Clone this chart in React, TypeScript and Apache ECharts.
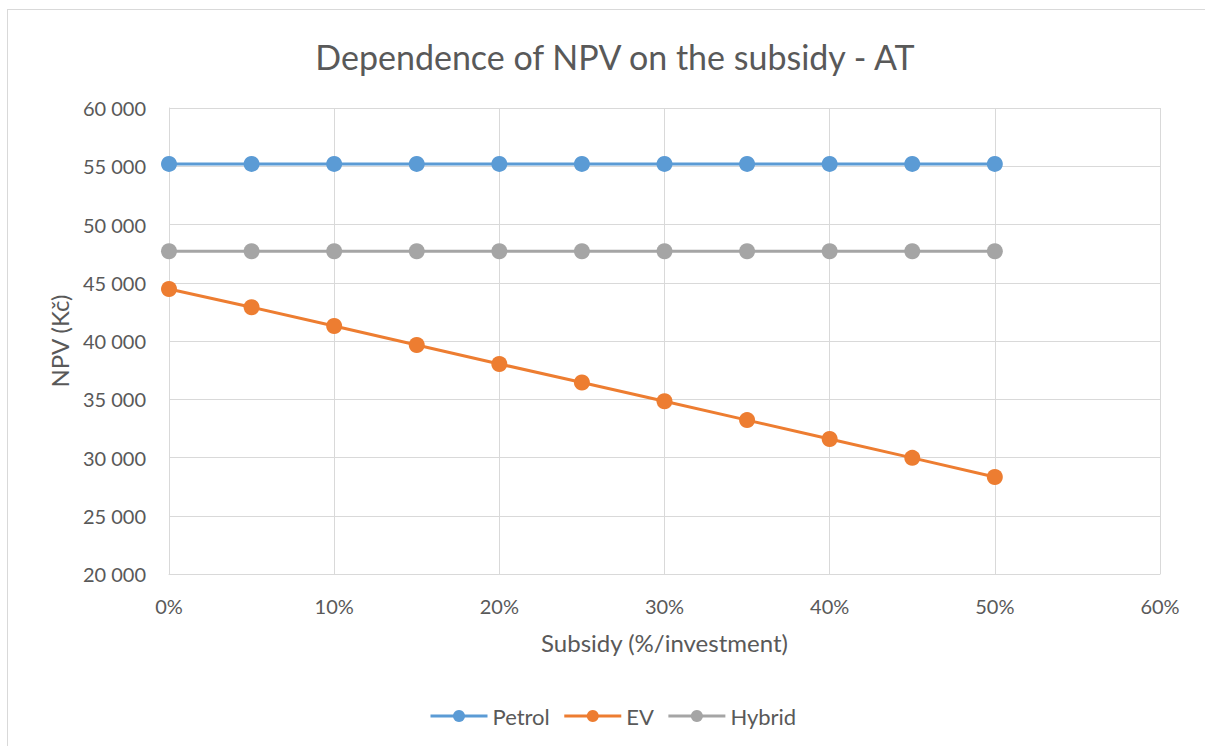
import React, { useEffect, useRef } from "react";
import * as echarts from "echarts";

const subsidy = [0, 0.05, 0.1, 0.15, 0.2, 0.25, 0.3, 0.35, 0.4, 0.45, 0.5];
const petrol = [55200, 55200, 55200, 55200, 55200, 55200, 55200, 55200, 55200, 55200, 55200];
const ev = [44460, 42900, 41290, 39660, 38030, 36440, 34830, 33210, 31590, 29970, 28330];
const hybrid = [47700, 47700, 47700, 47700, 47700, 47700, 47700, 47700, 47700, 47700, 47700];

const FONT = "Lato, 'Open Sans', sans-serif";
const TXT = "#595959";

export default function App() {
  const ref = useRef<HTMLDivElement>(null);
  useEffect(() => {
    if (!ref.current) return;
    const chart = echarts.init(ref.current, undefined, { renderer: "svg" });
    const mk = (name: string, vals: number[], color: string) => ({
      name,
      type: "line",
      data: subsidy.map((x, i) => [x, vals[i]]),
      symbol: "circle",
      symbolSize: 16,
      itemStyle: { color },
      lineStyle: { color, width: 3 },
    });
    chart.setOption({
      animation: false,
      textStyle: { fontFamily: FONT },
      title: {
        text: "Dependence of NPV on the subsidy - AT",
        left: 610,
        top: 34,
        textAlign: "center",
        textStyle: { fontFamily: FONT, fontSize: 34, fontWeight: "normal", color: TXT },
      },
      legend: {
        bottom: 14,
        left: 424,
        itemWidth: 57,
        itemHeight: 15,
        itemGap: 13,
        lineStyle: { width: 3 },
        textStyle: { fontFamily: FONT, fontSize: 22, color: TXT },
        data: ["Petrol", "EV", "Hybrid"],
      },
      grid: { left: 169, right: 45, top: 108, bottom: 172, containLabel: false },
      xAxis: {
        type: "value",
        min: 0,
        max: 0.6,
        interval: 0.1,
        name: "Subsidy (%/investment)",
        nameLocation: "middle",
        nameGap: 56,
        nameTextStyle: { fontFamily: FONT, fontSize: 24, color: TXT },
        axisLine: { show: true, lineStyle: { color: "#d9d9d9", width: 1 } },
        axisTick: { show: false },
        axisLabel: {
          fontFamily: FONT,
          fontSize: 20,
          color: TXT,
          margin: 22,
          formatter: (v: number) => `${Math.round(v * 100)}%`,
        },
        splitLine: { show: true, lineStyle: { color: "#d9d9d9", width: 1 } },
      },
      yAxis: {
        type: "value",
        min: 20000,
        max: 60000,
        interval: 5000,
        name: "NPV (Kč)",
        nameLocation: "middle",
        nameGap: 98,
        nameTextStyle: { fontFamily: FONT, fontSize: 24, color: TXT },
        axisLine: { show: true, lineStyle: { color: "#d9d9d9", width: 1 } },
        axisTick: { show: false },
        axisLabel: {
          fontFamily: FONT,
          fontSize: 20,
          color: TXT,
          margin: 23,
          formatter: (v: number) => String(v).replace(/\B(?=(\d{3})+(?!\d))/g, " "),
        },
        splitLine: { show: true, lineStyle: { color: "#d9d9d9", width: 1 } },
      },
      series: [
        mk("Petrol", petrol, "#5B9BD5"),
        mk("EV", ev, "#ED7D31"),
        mk("Hybrid", hybrid, "#A5A5A5"),
      ],
    });
    return () => chart.dispose();
  }, []);
  return (
    <div style={{ position: "absolute", left: 0, top: 0, width: 1205, height: 746, overflow: "hidden", background: "#fff" }}>
      <div style={{ position: "absolute", left: 7, top: 9, width: 1300, height: 900, border: "1px solid #d9d9d9" }} />
      <div ref={ref} style={{ position: "absolute", left: 0, top: 0, width: 1205, height: 746 }} />
    </div>
  );
}
